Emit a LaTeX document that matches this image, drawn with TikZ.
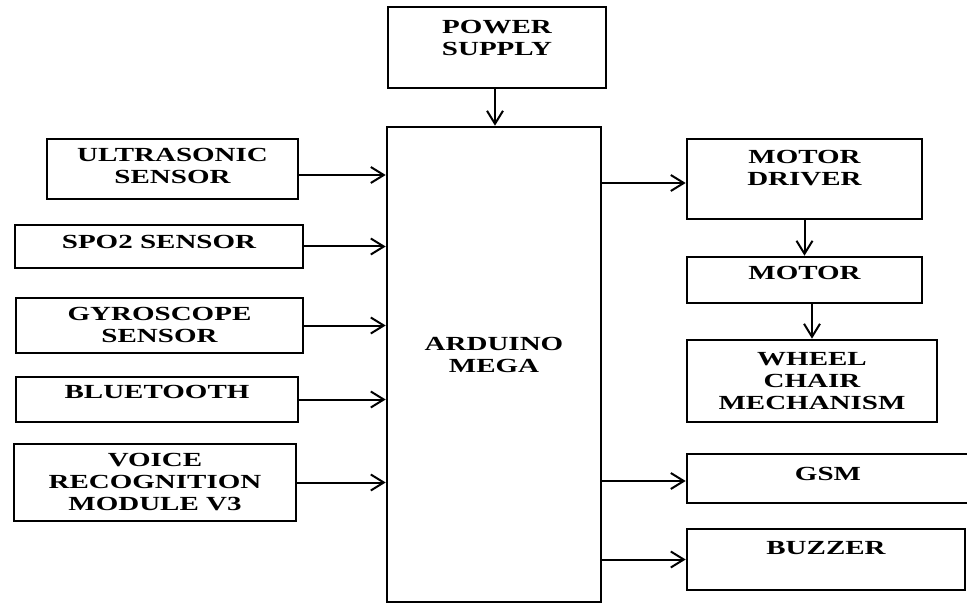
\documentclass[tikz,border=0pt]{standalone}
\usepackage{fontspec}
\setmainfont{Liberation Serif}[FakeStretch=1.45]
\usetikzlibrary{arrows.meta}
\tikzset{
  blk/.style={
    draw,
    line width=2.6pt,
    inner sep=0pt
  },
  lbl/.style={
    align=center,
    inner sep=0pt,
    font=\bfseries\fontsize{20}{22}\selectfont
  },
  conn/.style={
    line width=2pt,
    -{Straight Barb[length=13pt,width=16pt,line width=2pt]}
  }
}

\begin{document}
\begin{tikzpicture}[x=1pt,y=-1pt]
    \useasboundingbox (0,0) rectangle (967,604);

    % 電源と本体
    \node[blk,minimum width=218pt,minimum height=81pt] (pwr) at (497,47.5) {};
    \node[lbl] (pwr-t) at ([yshift=9.5pt]pwr.center) {POWER\\SUPPLY};
    \node[blk,minimum width=214pt,minimum height=475pt] (ard) at (494,364.5) {};
    \node[lbl] (ard-t) at ([yshift=10pt]ard.center) {ARDUINO\\MEGA};

    % 入力側
    \node[blk,minimum width=251pt,minimum height=60pt] (ultra) at (172.5,169) {};
    \node[lbl] (ultra-t) at ([yshift=3pt]ultra.center) {ULTRASONIC\\SENSOR};
    \node[blk,minimum width=288pt,minimum height=43pt] (spo) at (159,246.5) {};
    \node[lbl] (spo-t) at ([yshift=4.5pt]spo.center) {SPO2 SENSOR};
    \node[blk,minimum width=287pt,minimum height=55pt] (gyro) at (159.5,325.5) {};
    \node[lbl] (gyro-t) at ([yshift=1pt]gyro.center) {GYROSCOPE\\SENSOR};
    \node[blk,minimum width=282pt,minimum height=45pt] (blue) at (157,399.5) {};
    \node[lbl] (blue-t) at ([yshift=7.5pt]blue.center) {BLUETOOTH};
    \node[blk,minimum width=282pt,minimum height=77pt] (voice) at (155,482.5) {};
    \node[lbl] (voice-t) at (voice.center) {VOICE\\RECOGNITION\\MODULE V3};

    % 出力側
    \node[blk,minimum width=235pt,minimum height=80pt] (drv) at (804.5,179) {};
    \node[lbl] (drv-t) at ([yshift=11pt]drv.center) {MOTOR\\DRIVER};
    \node[blk,minimum width=235pt,minimum height=46pt] (mot) at (804.5,280) {};
    \node[lbl] (mot-t) at ([yshift=7pt]mot.center) {MOTOR};
    \node[blk,minimum width=250pt,minimum height=82pt] (wheel) at (812,381) {};
    \node[lbl] (wheel-t) at (wheel.center) {WHEEL\\CHAIR\\MECHANISM};
    \node[blk,minimum width=282pt,minimum height=49pt] (gsm) at (828,478.5) {};
    \node[lbl] (gsm-t) at ([yshift=5pt]gsm.center) {GSM};
    \node[blk,minimum width=278pt,minimum height=61pt] (buzz) at (826,559.5) {};
    \node[lbl] (buzz-t) at ([yshift=11.5pt]buzz.center) {BUZZER};

    % 矢印
    \draw[conn] ([xshift=-2pt]pwr.south) -- ([xshift=-2pt]pwr.south |- ard.north);
    \draw[conn] ([yshift=-6pt]ultra.east) -- ([yshift=-6pt]ultra.east -| ard.west);
    \foreach \src in {spo,gyro,blue,voice}
        \draw[conn] (\src.east) -- (\src.east -| ard.west);
    \draw[conn] ([yshift=-4pt]drv.west -| ard.east) -- ([yshift=-4pt]drv.west);
    \draw[conn] (drv.south) -- (mot.north);
    \draw[conn] (wheel.north |- mot.south) -- (wheel.north);
    \draw[conn] ([yshift=-2.5pt]gsm.west -| ard.east) -- ([yshift=-2.5pt]gsm.west);
    \draw[conn] (buzz.west -| ard.east) -- (buzz.west);
\end{tikzpicture}
\end{document}
